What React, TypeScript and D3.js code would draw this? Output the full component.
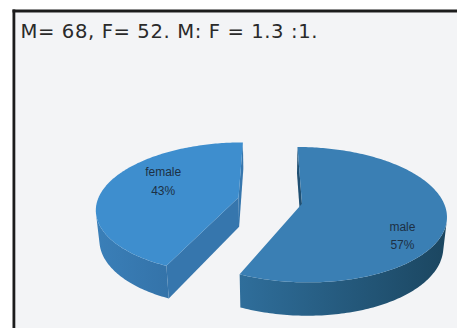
import React from 'react';
import * as d3 from 'd3';

// ---- data ----
const categories = ['female', 'male'];
const counts = [52, 68];
const title = 'M= 68, F= 52. M: F = 1.3 :1.';

// ---- styling ----
const topFill = ['#3e8ece', '#3a7fb4'];
const wallFrom = ['#3a7fb8', '#2f6e9b'];
const wallTo = ['#3473a9', '#1b4660'];
const cutFill = ['#3676ad', '#1f4f72'];
const labelAnchor = [
  { angle: (-65 * Math.PI) / 180, r: 0.63 },
  { angle: (125 * Math.PI) / 180, r: 0.78 },
];

const WIDTH = 457;
const HEIGHT = 328;

// camera for the tilted 3-D pie (units: pie radius)
const view = { cx: 270, cy: 200.5, scale: 141, tilt: Math.asin(0.46), dist: 5.48 };
const thickness = 0.24;
const explode = 0.23;

const sinT = Math.sin(view.tilt);
const cosT = Math.cos(view.tilt);
const cam = { x: 0, y: view.dist * sinT, z: -view.dist * cosT };

function project(x: number, y: number, z: number): [number, number] {
  const w = 1 + (z * cosT - y * sinT) / view.dist;
  return [view.cx + (view.scale * x) / w, view.cy - (view.scale * (y * cosT + z * sinT)) / w];
}

const line = d3.line<[number, number]>().x((d) => d[0]).y((d) => d[1]);
const closed = (pts: [number, number][]) => (line(pts) || '') + 'Z';
const pct = d3.format('.0%');

export default function App() {
  const total = d3.sum(counts);
  const start = (-2 * Math.PI * counts[0]) / total;
  const arcs = d3
    .pie<number>()
    .sort(null)
    .value((d) => d)
    .startAngle(start)
    .endAngle(start + 2 * Math.PI)(counts);

  const slices = arcs.map((a, i) => {
    const a0 = a.startAngle;
    const a1 = a.endAngle;
    const mid = (a0 + a1) / 2;
    const ox = explode * Math.sin(mid);
    const oz = explode * Math.cos(mid);
    const rim = (t: number, y: number, r = 1) => project(ox + r * Math.sin(t), y, oz + r * Math.cos(t));
    const ctr = (y: number) => project(ox, y, oz);
    const n = Math.max(8, Math.ceil(((a1 - a0) * 180) / Math.PI));
    const ts = d3.range(n + 1).map((k) => a0 + ((a1 - a0) * k) / n);

    const top = closed([ctr(0), ...ts.map((t) => rim(t, 0))]);

    // outer wall: only the stretch that faces the camera
    const facing = (t: number) =>
      (ox + Math.sin(t) - cam.x) * Math.sin(t) + (oz + Math.cos(t) - cam.z) * Math.cos(t) < 0;
    const runs: number[][] = [];
    let cur: number[] = [];
    ts.forEach((t) => {
      if (facing(t)) cur.push(t);
      else if (cur.length) {
        runs.push(cur);
        cur = [];
      }
    });
    if (cur.length) runs.push(cur);
    const walls = runs
      .filter((r) => r.length > 1)
      .map((r) =>
        closed([...r.map((t) => rim(t, 0)), ...r.slice().reverse().map((t) => rim(t, -thickness))])
      );

    // flat cut faces at the two radial edges
    const cuts: string[] = [];
    const edges: [number, number, number][] = [
      [a0, -Math.cos(a0), Math.sin(a0)],
      [a1, Math.cos(a1), -Math.sin(a1)],
    ];
    edges.forEach(([t, nx, nz]) => {
      if ((ox - cam.x) * nx + (oz - cam.z) * nz < 0) {
        cuts.push(closed([ctr(0), rim(t, 0), rim(t, -thickness), ctr(-thickness)]));
      }
    });

    const la = labelAnchor[i];
    const [lx, ly] = rim(la.angle, 0, la.r);

    return { i, oz, top, walls, cuts, lx, ly, name: categories[i], value: pct(a.value / total) };
  });

  const order = slices.slice().sort((p, q) => q.oz - p.oz);

  return (
    <svg
      width={WIDTH}
      height={HEIGHT}
      style={{ position: 'absolute', left: 0, top: 0, display: 'block' }}
      xmlns="http://www.w3.org/2000/svg"
    >
      <defs>
        {slices.map((s) => (
          <linearGradient key={s.i} id={`wall${s.i}`} x1="0" x2="1" y1="0" y2="0">
            <stop offset="0" stopColor={wallFrom[s.i]} />
            <stop offset="1" stopColor={wallTo[s.i]} />
          </linearGradient>
        ))}
      </defs>
      <rect x={0} y={0} width={WIDTH} height={HEIGHT} fill="#ffffff" />
      <rect x={15} y={12.5} width={WIDTH - 15} height={HEIGHT - 12.5} fill="#f3f4f6" />
      <rect x={12.5} y={9.5} width={WIDTH - 12.5} height={3} fill="#1c1c1c" />
      <rect x={12.5} y={9.5} width={2.8} height={HEIGHT - 9.5} fill="#1c1c1c" />

      <text
        x={20.5}
        y={37.5}
        fontFamily="'DejaVu Sans', Verdana, sans-serif"
        fontSize={19.6}
        letterSpacing={0.6}
        fill="#2a2a2a"
      >
        {title}
      </text>

      {order.map((s) => (
        <g key={s.i}>
          {s.walls.map((d, k) => (
            <path key={`w${k}`} d={d} fill={`url(#wall${s.i})`} />
          ))}
          {s.cuts.map((d, k) => (
            <path key={`c${k}`} d={d} fill={cutFill[s.i]} />
          ))}
          <path d={s.top} fill={topFill[s.i]} />
        </g>
      ))}

      {slices.map((s) => (
        <text
          key={`l${s.i}`}
          textAnchor="middle"
          fontFamily="'Liberation Sans', Arial, sans-serif"
          fontSize={12}
          fill="#1d3044"
        >
          <tspan x={s.lx} y={s.ly - 4.8}>
            {s.name}
          </tspan>
          <tspan x={s.lx} y={s.ly + 13.5}>
            {s.value}
          </tspan>
        </text>
      ))}
    </svg>
  );
}
